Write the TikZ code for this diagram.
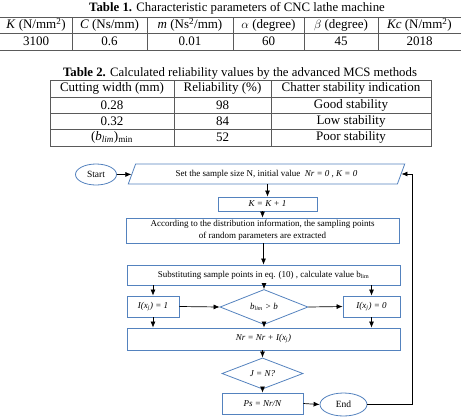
\documentclass[tikz,border=0pt]{standalone}
\usepackage{fontspec}
\setmainfont{Liberation Serif}
\usetikzlibrary{arrows.meta,shapes.geometric,positioning}
\definecolor{boxblue}{RGB}{84,130,190}
\definecolor{rulegray}{RGB}{90,90,90}
\tikzset{
  cell/.style={inner sep=0pt,font=\fontsize{13}{15}\selectfont},
  capt/.style={inner sep=0pt,font=\fontsize{12.8}{15}\selectfont},
  rule/.style={rulegray,line width=0.7pt},
  proc/.style={rectangle,draw=boxblue,line width=0.8pt,inner sep=1pt,font=\fontsize{9}{11.5}\selectfont},
  term/.style={ellipse,draw=boxblue,line width=0.8pt,inner sep=0pt,font=\fontsize{9.5}{10}\selectfont},
  dec/.style={diamond,draw=boxblue,line width=0.8pt,inner sep=0pt,font=\fontsize{9}{10}\selectfont},
  io/.style={trapezium,draw=boxblue,line width=0.8pt,inner sep=0pt,
    trapezium left angle=58,trapezium right angle=122,trapezium stretches=true,
    font=\fontsize{9}{10}\selectfont},
  flow/.style={-{Latex[length=6pt,width=5pt]},line width=0.7pt},
  back/.style={line width=0.7pt}
}

\begin{document}
\begin{tikzpicture}[x=1pt,y=-1pt]
\useasboundingbox (0,0) rectangle (462,418);
% table 1
\node[capt] (capA) at (237,8) {\textbf{Table 1.} Characteristic parameters of CNC lathe machine};
\foreach \x/\h/\v [count=\i] in {
  36/{\textit{K} (N/mm\textsuperscript{2})}/3100,
  109.5/{\textit{C} (Ns/mm)}/0.6,
  190/{\textit{m} (Ns\textsuperscript{2}/mm)}/0.01,
  268.5/{$\alpha$ (degree)}/60,
  341/{$\beta$ (degree)}/45,
  419.5/{\textit{Kc} (N/mm\textsuperscript{2})}/2018} {
  \node[cell] (ha\i) at (\x,25) {\h};
  \node[cell] (va\i) at (\x,41.5) {\v};
}
\draw[rule] (0,17) -- (461,17);
\draw[rule] (0,33) -- (461,33);
\draw[rule] (0,50) -- (461,50);
\foreach \x in {72,147,233,304,378} {
  \draw[rule] (\x,17) -- (\x,50);
}
% table 2
\node[capt] (capB) at (240,73) {\textbf{Table 2.} Calculated reliability values by the advanced MCS methods};
\node[cell] (hb1) at (112,88.5) {Cutting width (mm)};
\node[cell] (hb2) at (222.5,88.5) {Reliability (\%)};
\node[cell] (hb3) at (351,88.5) {Chatter stability indication};
\foreach \w/\r/\s/\y [count=\i] in {
  0.28/98/Good stability/105,
  0.32/84/Low stability/121,
  {(\textit{b\textsubscript{lim}})\textsubscript{min}}/52/Poor stability/137.5} {
  \node[cell] (wb\i) at (112,\y) {\w};
  \node[cell] (rb\i) at (222.5,\y) {\r};
  \node[cell] (sb\i) at (351,\y) {\s};
}
\draw[rule] (50,80) rectangle (431,146);
\foreach \y in {97,113,129} {
  \draw[rule] (50,\y) -- (431,\y);
}
\foreach \x in {174,271} {
  \draw[rule] (\x,80) -- (\x,146);
}
% flowchart
\node[term,minimum width=41pt,minimum height=21pt] (start) at (96,174.5) {Start};
\node[io,minimum width=277pt,minimum height=20pt] (init) at (266.5,174)
  {Set the sample size N, initial value\enspace\textit{Nr = 0 , K = 0}};
\node[proc,minimum width=99pt,minimum height=14pt] (kinc) at (267.5,204) {\textit{K = K + 1}};
\node[proc,minimum width=273pt,minimum height=25pt,align=center] (extract) at (262.5,230.5)
  {According to the distribution information, the sampling points\\of random parameters are extracted};
\node[proc,minimum width=273pt,minimum height=20pt] (subst) at (263.5,275)
  {Substituting sample points in eq. (10) , calculate value b\textsubscript{lim}};
\node[proc,minimum width=52pt,minimum height=21pt] (ione) at (153,306.5) {\textit{I(x\textsubscript{j}) = 1}};
\node[dec,minimum width=88pt,minimum height=29pt] (cond) at (264,307) {\textit{b\textsubscript{lim} > b}};
\node[proc,minimum width=57pt,minimum height=21pt] (izero) at (371.5,306.5) {\textit{I(x\textsubscript{j}) = 0}};
\node[proc,minimum width=273pt,minimum height=22pt] (nrsum) at (263.5,339) {\textit{Nr = Nr + I(x\textsubscript{j})}};
\node[dec,minimum width=81pt,minimum height=29pt] (check) at (262.5,373.5) {\textit{J = N?}};
\node[proc,minimum width=81pt,minimum height=21pt] (ps) at (262.5,403.5) {\textit{Ps = Nr/N}};
\node[term,minimum width=47pt,minimum height=23pt] (finish) at (343.5,404.5) {End};
\coordinate (turn) at (412,404.5);
% connectors
\draw[flow] (start) -- (init);
\draw[flow] (init.south -| kinc.north) -- (kinc.north);
\draw[flow] (kinc.south -| extract.north) -- (extract.north);
\draw[flow] (extract.south -| subst.north) -- (subst.north);
\draw[flow] (subst.south -| ione.north) -- (ione.north);
\draw[flow] (subst.south -| cond.north) -- (cond.north);
\draw[flow] (subst.south -| izero.north) -- (izero.north);
\draw[flow] (ione.east) -- (cond.west);
\draw[flow] (cond.east) -- (izero.west);
\draw[flow] (ione.south) -- (ione.south |- nrsum.north);
\draw[flow] (cond.south) -- (cond.south |- nrsum.north);
\draw[flow] (izero.south) -- (izero.south |- nrsum.north);
\draw[flow] (nrsum.south -| check.north) -- (check.north);
\draw[flow] (check.south) -- (ps.north);
\draw[flow] (ps.east) -- (finish.west);
\draw[back] (finish.east) -- (turn);
\draw[flow] (turn) |- (init.east);
\end{tikzpicture}
\end{document}
